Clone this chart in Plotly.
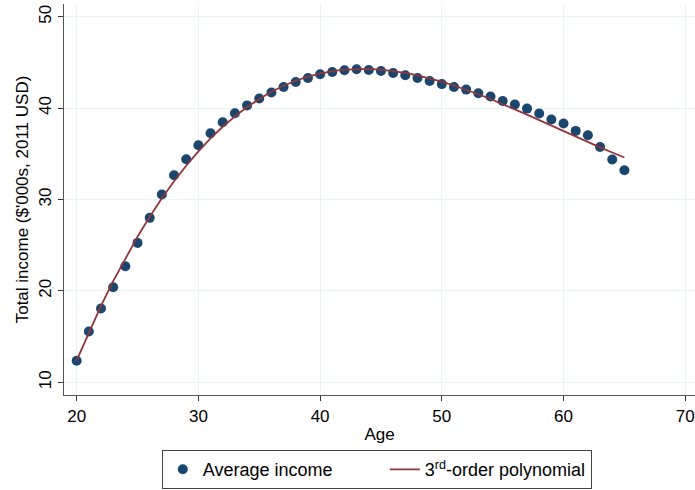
import plotly.graph_objects as go

ages = list(range(20, 66))
avg_income = [12.34, 15.56, 18.07, 20.40, 22.70, 25.25, 27.99, 30.55, 32.66, 34.41,
               35.94, 37.25, 38.45, 39.45, 40.30, 41.05, 41.71, 42.32, 42.87, 43.30,
               43.71, 43.96, 44.15, 44.26, 44.18, 44.07, 43.85, 43.60, 43.30, 42.98,
               42.63, 42.32, 42.03, 41.63, 41.27, 40.79, 40.39, 39.95, 39.41, 38.75,
               38.31, 37.51, 37.03, 35.75, 34.37, 33.20]
poly_fit = [12.40, 15.47, 18.35, 21.06, 23.58, 25.93, 28.11, 30.13, 31.99, 33.70,
            35.26, 36.68, 37.96, 39.10, 40.12, 41.01, 41.79, 42.45, 43.00, 43.45,
            43.79, 44.05, 44.21, 44.29, 44.29, 44.22, 44.07, 43.87, 43.60, 43.27,
            42.90, 42.48, 42.02, 41.52, 41.00, 40.45, 39.87, 39.29, 38.69, 38.08,
            37.48, 36.87, 36.28, 35.70, 35.14, 34.60]
x_ticks = [20, 30, 40, 50, 60, 70]
y_ticks = [10, 20, 30, 40, 50]

FONT = "Arial, Liberation Sans, sans-serif"
fig = go.Figure()
fig.add_trace(go.Scatter(x=ages, y=avg_income, mode="markers", name="Average income",
                         marker=dict(color="#1a476f", size=10), legendwidth=177))
fig.add_trace(go.Scatter(x=ages, y=poly_fit, mode="lines",
                         name="3<sup>rd</sup>-order polynomial",
                         line=dict(color="#90353b", width=1.8)))

axis_common = dict(showline=True, linecolor="#555555", linewidth=1.2, ticks="outside",
                   ticklen=5, tickcolor="#333333", showgrid=True, gridcolor="#eaf2f3",
                   gridwidth=1, zeroline=False, tickfont=dict(size=17, color="black", family=FONT))
fig.update_xaxes(range=[18.96, 70.8], tickvals=x_ticks,
                 title=dict(text="Age", font=dict(size=17, color="black", family=FONT), standoff=3),
                 **axis_common)
fig.update_yaxes(range=[8.6, 51.4], tickvals=y_ticks, tickangle=-90,
                 title=dict(text="Total income ($'000s, 2011 USD)", font=dict(size=17, color="black", family=FONT), standoff=3),
                 **axis_common)

fig.update_layout(
    width=695, height=490,
    margin=dict(l=64, r=0, t=4, b=95, autoexpand=False),
    paper_bgcolor="white", plot_bgcolor="white",
    font=dict(family=FONT, size=17, color="black"),
    legend=dict(orientation="h", x=0.155, xanchor="left", y=-0.141, yanchor="top",
                bordercolor="#444444", borderwidth=1, font=dict(size=18, family=FONT),
                itemwidth=30),
)
fig.write_html("out.html", config={"displayModeBar": False},
               post_script="document.body.style.margin='0';document.body.style.overflow='hidden';")
